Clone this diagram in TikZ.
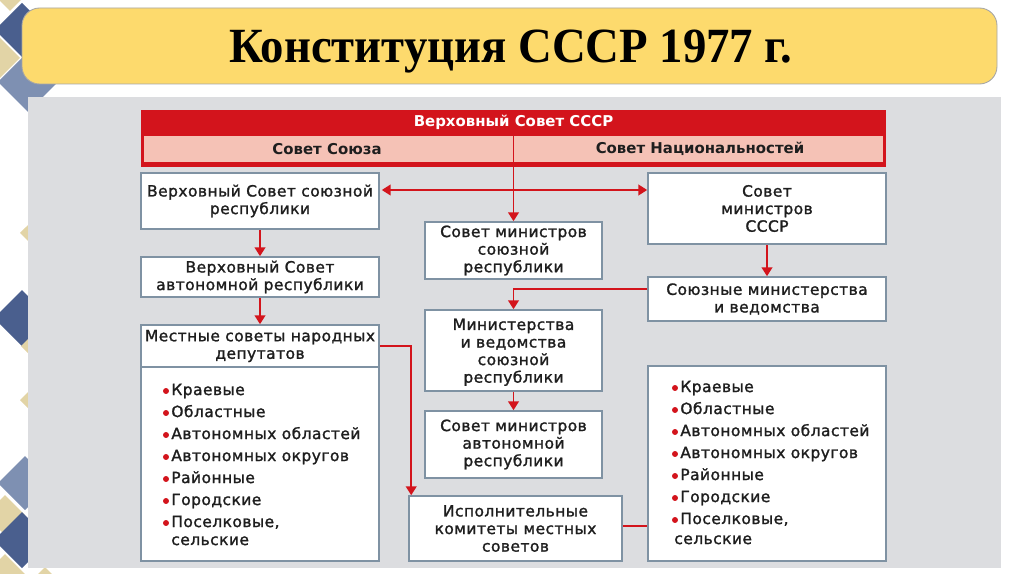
\documentclass[tikz,border=0pt]{standalone}
\usepackage{fontspec}
\setmainfont{Liberation Serif}
\newfontfamily\boxfont[LetterSpace=3,FakeBold=1.4]{DejaVu Sans}
\newfontfamily\hdrfont{DejaVu Sans}
\usetikzlibrary{arrows.meta,fit,calc}
\definecolor{redc}{HTML}{D3141C}
\definecolor{pinkc}{HTML}{F5C2B6}
\definecolor{panel}{HTML}{DCDDE0}
\definecolor{yel}{HTML}{FDDA6D}
\definecolor{bord}{HTML}{7F92A3}
\definecolor{txt}{HTML}{1E1E1E}
\definecolor{blueA}{HTML}{4A5F8E}
\definecolor{blueB}{HTML}{7E90B2}
\definecolor{beig}{HTML}{E2D4A6}
\newcommand\mydiamond[4]{\fill[#1] (#2-#4,#3) -- (#2,#3-#4) -- (#2+#4,#3) -- (#2,#3+#4) -- cycle;}
\tikzset{
 box/.style={draw=bord, line width=0.9pt, fill=white, inner sep=0pt},
 btxt/.style={inner sep=0pt, align=center, font=\boxfont\fontsize{8.8}{10}\selectfont, text=txt},
 arr/.style={draw=redc, line width=1.1pt, -{Triangle[width=6pt,length=5pt]}},
 dblarr/.style={draw=redc, line width=1.1pt, {Triangle[width=6pt,length=5pt]}-{Triangle[width=6pt,length=5pt]}},
 plain/.style={draw=redc, line width=1.1pt},
 lst/.style={anchor=west, inner sep=0pt, text height=6.4pt, text depth=1.8pt,
   font=\boxfont\fontsize{8.8}{10}\selectfont, text=txt},
 bul/.style={circle, fill=redc, inner sep=0pt, minimum size=3.4pt},
 hdr/.style={inner sep=0pt, font=\hdrfont\bfseries\fontsize{8.5}{10}\selectfont},
}
\begin{document}
\begin{tikzpicture}[x=0.02cm,y=-0.02cm]
\useasboundingbox (0,0) rectangle (1024,574);
% decorations
\begin{scope}
\clip (0,0) rectangle (1024,574);
\mydiamond{beig}{10}{-5}{16}
\mydiamond{blueA}{22}{30}{27}
\mydiamond{beig}{0}{58}{20}
\mydiamond{blueB}{28}{82}{30}
\mydiamond{beig}{28}{233}{8}
\mydiamond{blueA}{22}{318}{28}
\mydiamond{beig}{28}{346}{7}
\mydiamond{beig}{28}{400}{8}
\mydiamond{blueB}{25}{483}{27}
\mydiamond{beig}{5}{515}{20}
\mydiamond{blueA}{22}{540}{28}
\mydiamond{beig}{5}{576}{22}
\mydiamond{beig}{45}{600}{33}
\end{scope}
% title
\draw[fill=yel, draw=black!35, line width=0.5pt, rounded corners=10] (22,8) rectangle (997,84);
\node[anchor=base, inner sep=0pt, font=\bfseries\fontsize{28}{28}\selectfont] (title) at (511,63)
  {\scalebox{0.95}[1]{Конституция СССР 1977 г.}};
% panel
\fill[panel] (28,97) rectangle (1001,568);
% header bars
\fill[redc] (141,110) rectangle (886,167);
\node[fit={(141,110)(886,136)}, inner sep=0pt] (top) {};
\node[hdr, text=white] (toptext) at (513.5,122.5) {Верховный Совет СССР};
\node[fill=pinkc, fit={(144,136)(883,162)}, inner sep=0pt] (pink) {};
\node[hdr, text=txt] (sojuz) at (327,149) {Совет Союза};
\node[hdr, text=txt] (nacio) at (700,149) {Совет Национальностей};
% boxes
\node[box, fit={(141,173)(379,229)}] (b1) {};
\node[btxt] (b1t) at (b1.center) {Верховный Совет союзной\\республики};
\node[box, fit={(141,257)(379,297)}] (b2) {};
\node[btxt] (b2t) at (b2.center) {Верховный Совет\\автономной республики};
\node[box, fit={(141,325)(379,367)}] (b3) {};
\node[btxt] (b3t) at (b3.center) {Местные советы народных\\депутатов};
\node[box, fit={(141,367)(379,561)}] (l1) {};
\node[box, fit={(425,222)(602,279)}] (b4) {};
\node[btxt] (b4t) at (b4.center) {Совет министров\\союзной\\республики};
\node[box, fit={(648,173)(886,244)}] (b5) {};
\node[btxt] (b5t) at (b5.center) {Совет\\министров\\СССР};
\node[box, fit={(648,277)(886,321)}] (b6) {};
\node[btxt] (b6t) at (b6.center) {Союзные министерства\\и ведомства};
\node[box, fit={(425,310)(602,391)}] (b7) {};
\node[btxt] (b7t) at ([yshift=-1]b7.center) {Министерства\\и ведомства\\союзной\\республики};
\node[box, fit={(425,411)(602,478)}] (b8) {};
\node[btxt] (b8t) at (b8.center) {Совет министров\\автономной\\республики};
\node[box, fit={(409,496)(622,561)}] (b9) {};
\node[btxt] (b9t) at (b9.center) {Исполнительные\\комитеты местных\\советов};
\node[box, fit={(648,366)(886,561)}] (l2) {};
% list items
\foreach \t/\y [count=\i] in {Краевые/391, Областные/413, Автономных областей/435, Автономных округов/457, Районные/479, Городские/501, {Поселковые,}/523}{
  \node[bul] (lb\i) at (166,\y) {};
  \node[lst] (lt\i) at (171,\y) {\t};
  \node[bul] (rb\i) at (675,\y-3) {};
  \node[lst] (rt\i) at (680,\y-3) {\t};
}
\node[lst] (lt8) at (171,541) {сельские};
\node[lst] (rt8) at (674,540) {сельские};
% connectors
\coordinate (dA) at (514,190);
\coordinate (c1) at (600,289);
\coordinate (c2) at (640,526);
\draw[arr] (top.south) -- (b4.north);
\draw[dblarr] ($(b1.east|-dA)+(2,0)$) -- (b5.west|-dA);
\draw[arr] (b1.south) -- (b2.north);
\draw[arr] (b2.south) -- (b3.north);
\draw[arr] (b3.east) -| ($(b9.north west)+(3,0)$);
\draw[arr] (b5.south) -- (b6.north);
\draw[arr] (b6.west|-c1) -| (b7.north);
\draw[arr] (b7.south) -- (b8.north);
\draw[plain] (b9.east|-c2) -- (l2.west|-c2);
\end{tikzpicture}
\end{document}
